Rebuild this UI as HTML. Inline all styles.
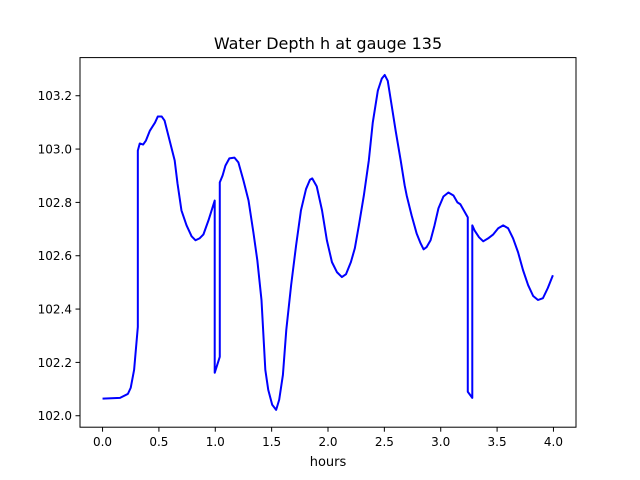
<!DOCTYPE html>
<html><head><meta charset="utf-8"><style>
body{margin:0;background:#fff;}
svg{display:block;font-family:"DejaVu Sans","Liberation Sans",sans-serif;}
</style></head><body>
<svg id="chart" width="640" height="480" viewBox="0 0 640 480">
<rect x="0" y="0" width="640" height="480" fill="#fff"/>
<text x="328" y="49" text-anchor="middle" font-size="16">Water Depth h at gauge 135</text>
<g id="plot"></g>
<rect x="80" y="57.6" width="496" height="369.6" fill="none" stroke="#000" stroke-width="1"/>
<text x="328" y="466" text-anchor="middle" font-size="13">hours</text>
</svg>
<script>
const times=[0.00,0.155,0.225,0.25,0.28,0.313,0.313,0.33,0.36,0.385,0.42,0.465,0.49,0.525,0.55,0.595,0.64,0.665,0.70,0.745,0.79,0.825,0.86,0.895,0.94,0.995,0.995,1.04,1.04,1.065,1.09,1.125,1.17,1.205,1.25,1.295,1.338,1.373,1.41,1.444,1.47,1.505,1.54,1.567,1.60,1.63,1.673,1.717,1.76,1.805,1.84,1.86,1.90,1.947,1.99,2.035,2.08,2.123,2.16,2.203,2.238,2.274,2.318,2.362,2.397,2.442,2.477,2.503,2.53,2.565,2.60,2.645,2.68,2.698,2.742,2.786,2.821,2.848,2.874,2.91,2.945,2.98,3.024,3.068,3.113,3.148,3.174,3.24,3.24,3.28,3.28,3.30,3.34,3.377,3.42,3.466,3.51,3.554,3.598,3.642,3.686,3.73,3.775,3.82,3.863,3.907,3.95,3.995];
const depths=[102.064,102.067,102.082,102.105,102.172,102.333,102.994,103.021,103.017,103.032,103.069,103.099,103.122,103.122,103.107,103.032,102.957,102.871,102.77,102.714,102.673,102.658,102.665,102.68,102.733,102.807,102.161,102.221,102.875,102.901,102.938,102.965,102.968,102.95,102.882,102.807,102.688,102.583,102.434,102.172,102.097,102.041,102.022,102.06,102.153,102.322,102.49,102.639,102.77,102.85,102.885,102.89,102.86,102.77,102.658,102.576,102.538,102.52,102.531,102.576,102.628,102.714,102.826,102.957,103.099,103.219,103.264,103.278,103.256,103.163,103.069,102.957,102.864,102.826,102.751,102.684,102.647,102.624,102.632,102.658,102.714,102.778,102.822,102.837,102.826,102.8,102.793,102.744,102.09,102.067,102.714,102.695,102.669,102.654,102.665,102.68,102.703,102.714,102.703,102.665,102.613,102.546,102.49,102.449,102.434,102.441,102.479,102.527];
const xTicks=[0.0,0.5,1.0,1.5,2.0,2.5,3.0,3.5,4.0];
const xTickLabels=["0.0","0.5","1.0","1.5","2.0","2.5","3.0","3.5","4.0"];
const yTicks=[102.0,102.2,102.4,102.6,102.8,103.0,103.2];
const yTickLabels=["102.0","102.2","102.4","102.6","102.8","103.0","103.2"];

const L=80,R=576,T=57.6,B=427.2;
const xmin=-0.2,xmax=4.2,ymin=101.957,ymax=103.343;
const sx=v=>L+(v-xmin)/(xmax-xmin)*(R-L);
const sy=v=>B-(v-ymin)/(ymax-ymin)*(B-T);
const NS="http://www.w3.org/2000/svg";
const g=document.getElementById('plot');
function mk(tag,attrs){const e=document.createElementNS(NS,tag);for(const k in attrs)e.setAttribute(k,attrs[k]);g.appendChild(e);return e;}
xTicks.forEach((v,i)=>{
  const t=mk('line',{x1:sx(v),x2:sx(v),y1:B,y2:B+4.5,stroke:'#000','stroke-width':1});
  
  
  const l=mk('text',{x:sx(v),y:B+19,'text-anchor':'middle','font-size':12});
  
  
  l.textContent=xTickLabels[i];
});
yTicks.forEach((v,i)=>{
  const t=mk('line',{x1:L-4.5,x2:L,y1:sy(v),y2:sy(v),stroke:'#000','stroke-width':1});
  
  
  const l=mk('text',{x:L-8,y:sy(v)+4.5,'text-anchor':'end','font-size':12});
  
  
  l.textContent=yTickLabels[i];
});
const d=times.map((t,i)=>(i?'L':'M')+sx(t).toFixed(2)+','+sy(depths[i]).toFixed(2)).join(' ');
const p=mk('path',{d:d,fill:'none',stroke:'#0000ff','stroke-width':2,'stroke-linejoin':'round'});


</script>
</body></html>
